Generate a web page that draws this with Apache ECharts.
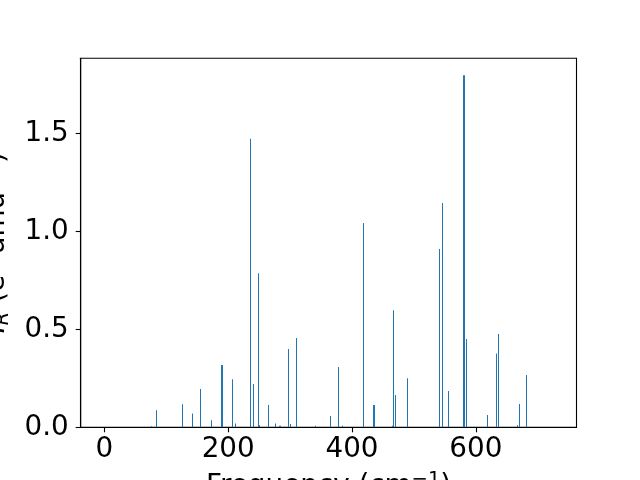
<!DOCTYPE html>
<html>
<head>
<meta charset="utf-8">
<script src="https://cdn.jsdelivr.net/npm/echarts@6/dist/echarts.min.js"></script>
<style>html,body{margin:0;padding:0;background:#fff}#c{width:640px;height:480px}</style>
</head>
<body>
<div id="c"></div>
<script>
const frequencies = [75.3, 83.8, 125.8, 142.0, 154.9, 173.3, 189.4, 190.8, 206.6, 211.5,
  235.7, 240.5, 248.6, 250.2, 264.8, 276.1, 283.2, 284.2, 297.7, 300.3, 310.0,
  340.7, 365.0, 377.9, 385.0, 418.3, 435.0, 436.2, 465.8, 466.7, 470.0, 489.3,
  541.0, 547.0, 555.6, 580.0, 581.3, 584.7, 618.6, 633.1, 636.3, 667.0, 670.3, 681.6];
const intensities = [0.005, 0.087, 0.117, 0.071, 0.195, 0.036, 0.318, 0.318, 0.245, 0.02,
  1.473, 0.221, 0.786, 0.01, 0.114, 0.02, 0.008, 0.008, 0.40, 0.017, 0.456,
  0.008, 0.058, 0.308, 0.008, 1.042, 0.114, 0.114, 0.008, 0.597, 0.165, 0.25,
  0.91, 1.144, 0.185, 1.797, 1.797, 0.45, 0.063, 0.376, 0.476, 0.01, 0.119, 0.267];
const xTicks = [0, 200, 400, 600];
const yTicks = [0, 0.5, 1.0, 1.5];
const xRange = [-38.3, 762.7];
const yRange = [0, 1.883];
const barWidthData = 1.6;

const chart = echarts.init(document.getElementById('c'), null, {renderer: 'canvas'});
const FONT = 'DejaVu Sans';
const FS = 27.8;
const SFS = 19.5;
const data = frequencies.map((f, i) => [f, intensities[i]]);
const richStyles = {
  n: {fontFamily: FONT, fontSize: FS, color: '#000'},
  it: {fontFamily: FONT, fontSize: FS, fontStyle: 'italic', color: '#000'},
  sub: {fontFamily: FONT, fontSize: SFS, fontStyle: 'italic', color: '#000', verticalAlign: 'bottom', padding: [10, 0, 0, 0]},
  sup: {fontFamily: FONT, fontSize: SFS, color: '#000', verticalAlign: 'top', padding: [0, 0, 12, 0]}
};

chart.setOption({
  animation: false,
  backgroundColor: '#fff',
  grid: {left: 80.7, right: 63.5, top: 58.3, bottom: 52.7, containLabel: false, outerBoundsMode: 'none',
    show: true, borderColor: '#000', borderWidth: 1.1, backgroundColor: 'transparent'},
  xAxis: {
    type: 'value', min: xRange[0], max: xRange[1],
    name: '{n|Frequency (cm}{sup|−1}{n|)}', nameLocation: 'middle', nameGap: 43,
    nameTextStyle: {fontFamily: FONT, fontSize: FS, color: '#000', rich: richStyles},
    axisLine: {show: true, onZero: false, lineStyle: {color: '#000', width: 1.1}},
    axisTick: {show: true, length: 5, lineStyle: {color: '#000', width: 1.1}, customValues: xTicks},
    axisLabel: {fontFamily: FONT, fontSize: FS, color: '#000', margin: 8, customValues: xTicks},
    splitLine: {show: false}
  },
  yAxis: {
    type: 'value', min: yRange[0], max: yRange[1],
    name: '{it|I}{sub|R}{n| (e}{sup|2}{n| amu}{sup|−1}{n|)}', nameLocation: 'middle', nameGap: 68, nameRotate: 90,
    nameTextStyle: {fontFamily: FONT, fontSize: FS, color: '#000', rich: richStyles},
    axisLine: {show: true, onZero: false, lineStyle: {color: '#000', width: 1.1}},
    axisTick: {show: true, length: 5, lineStyle: {color: '#000', width: 1.1}, customValues: yTicks},
    axisLabel: {fontFamily: FONT, fontSize: FS, color: '#000', margin: 12, customValues: yTicks,
      formatter: v => v.toFixed(1)},
    splitLine: {show: false}
  },
  series: [{
    type: 'custom',
    data: data,
    clip: true,
    renderItem: function (params, api) {
      const x = api.value(0), y = api.value(1);
      const p0 = api.coord([x - barWidthData / 2, 0]);
      const p1 = api.coord([x + barWidthData / 2, y]);
      const left = Math.round(p0[0]);
      const right = Math.max(left + 1, Math.round(p1[0]));
      return {
        type: 'rect',
        shape: {x: left, y: p1[1], width: right - left, height: p0[1] - p1[1]},
        style: {fill: '#1f77b4'}
      };
    }
  }]
});
</script>
</body>
</html>
